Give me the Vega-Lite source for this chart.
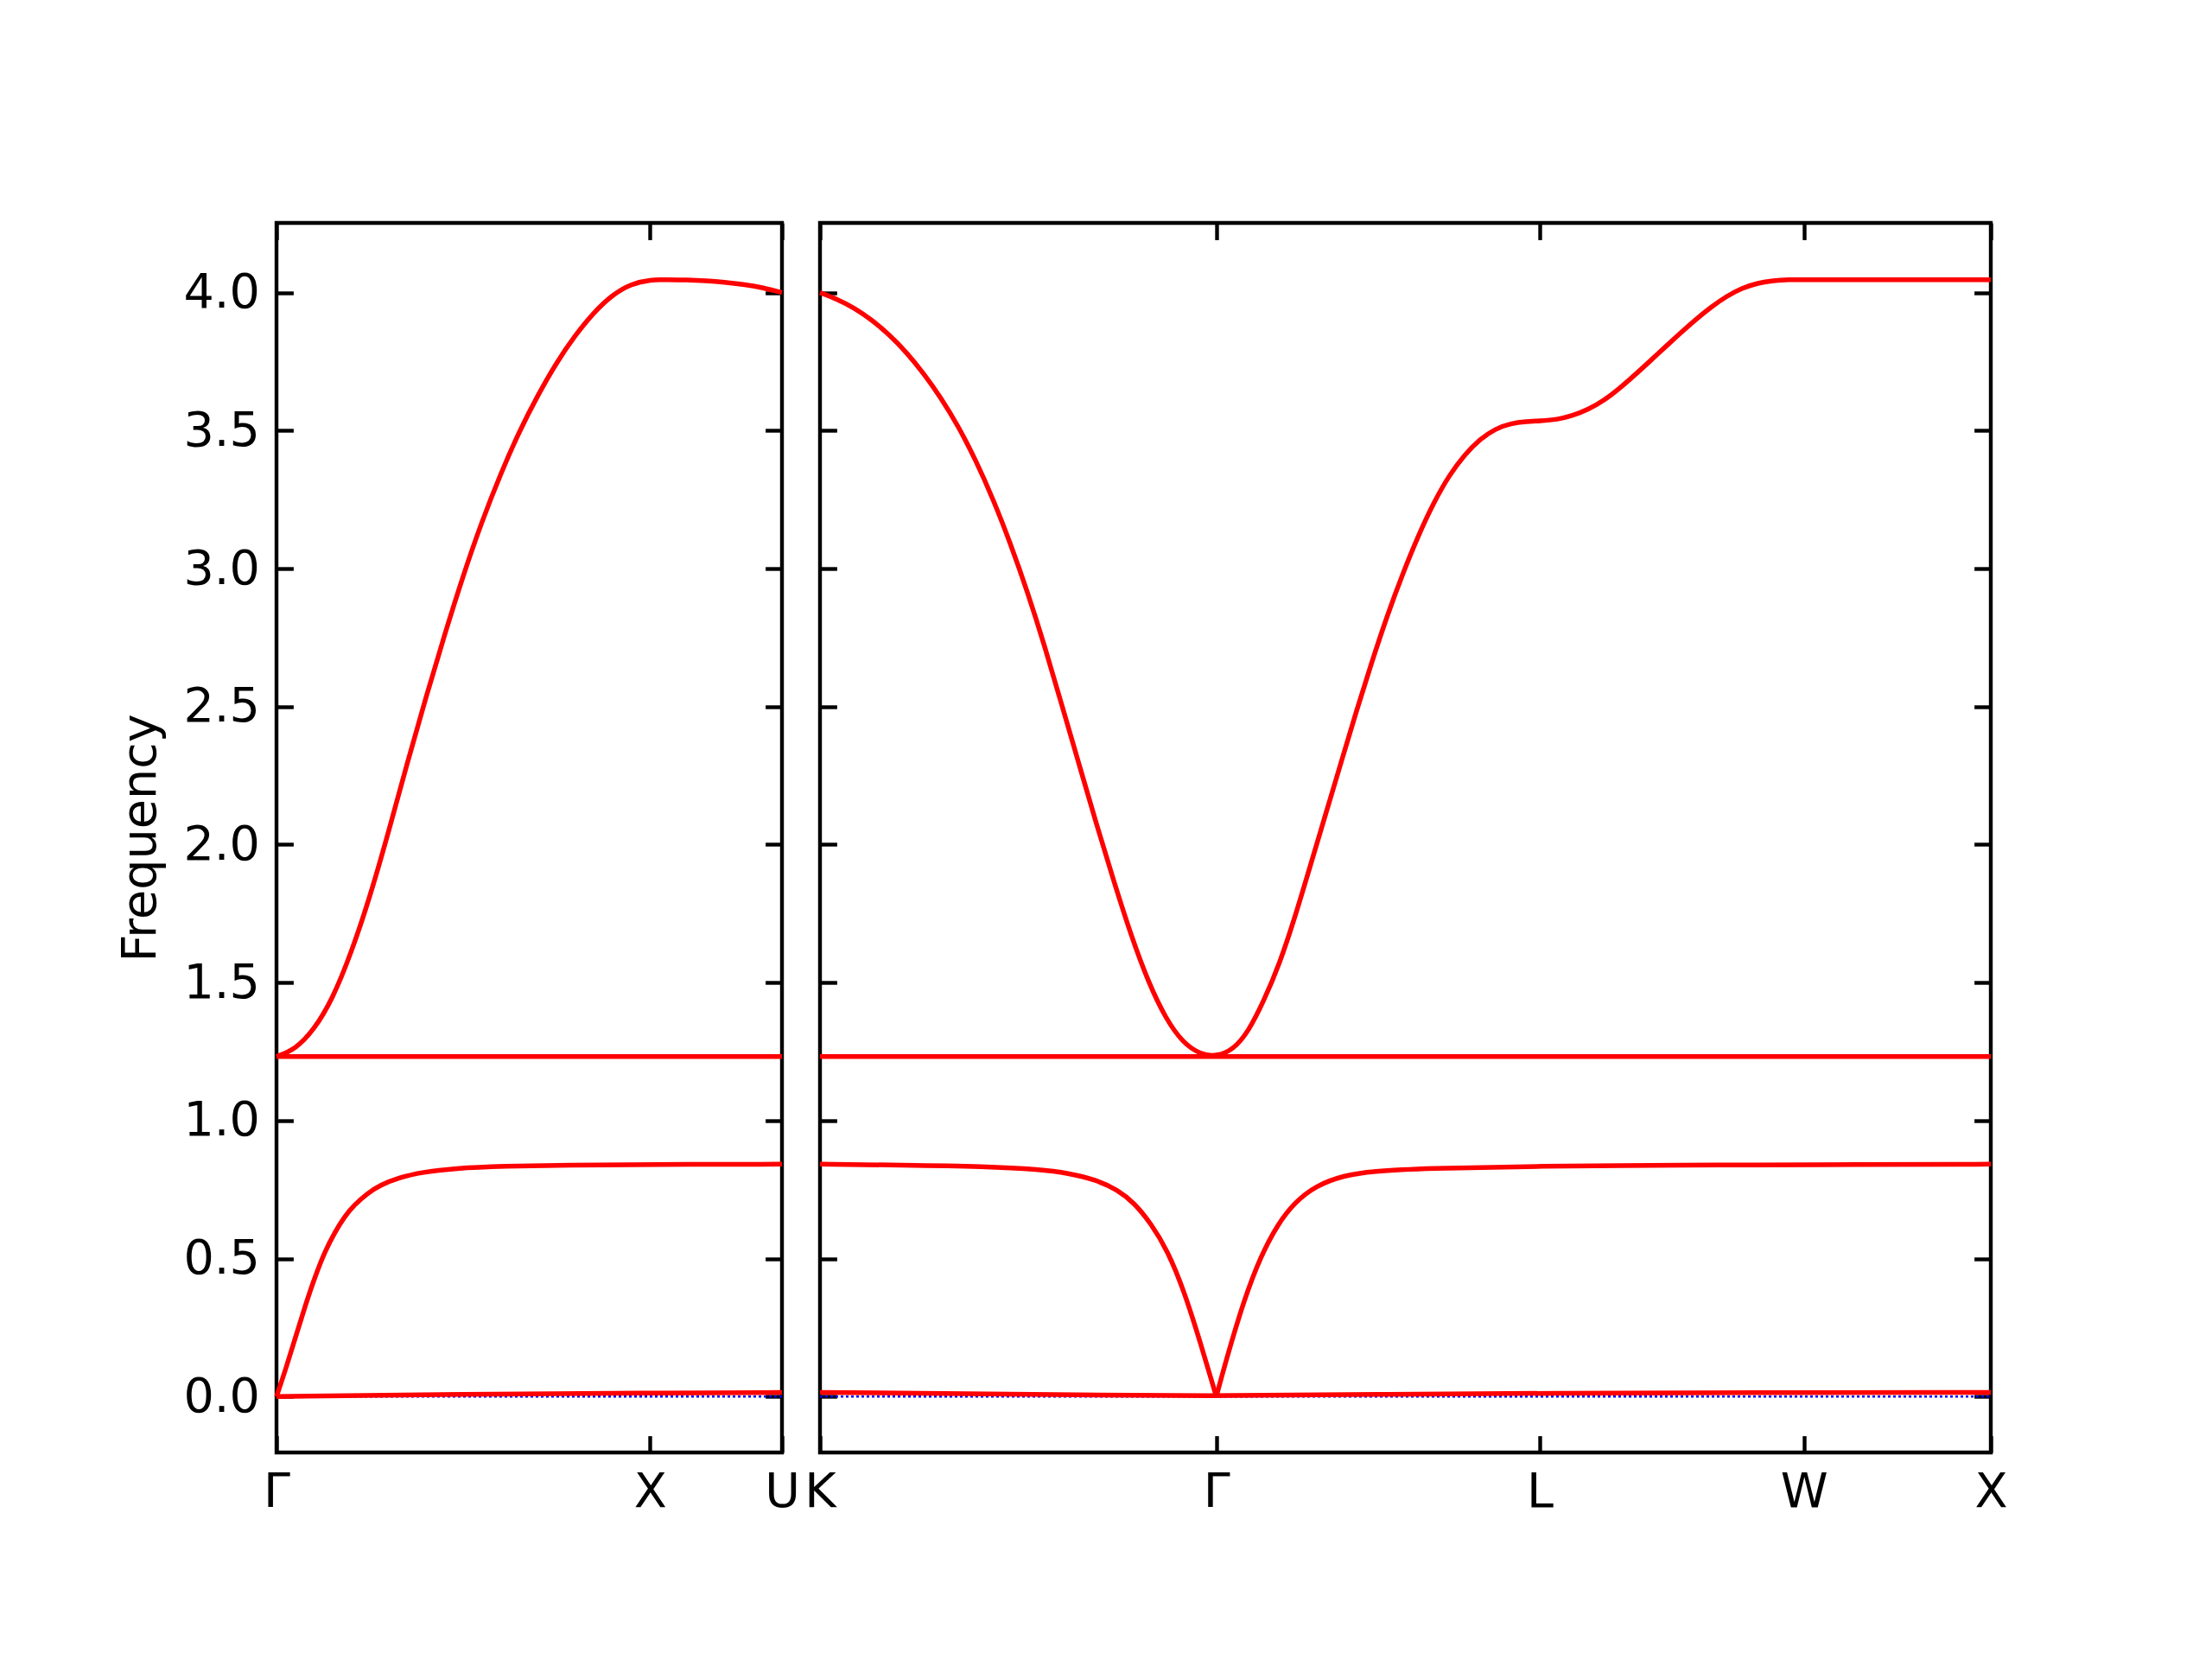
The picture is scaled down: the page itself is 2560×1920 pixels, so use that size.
{
  "$schema": "https://vega.github.io/schema/vega-lite/v6.json",
  "background": "white",
  "autosize": {"type": "pad"},
  "padding": {"left": 133, "top": 253, "right": 10, "bottom": 10},
  "bounds": "flush",
  "spacing": 44,
  "config": {
    "view": {"stroke": "black", "strokeWidth": 4.4},
    "font": "DejaVu Sans",
    "axis": {
      "domain": false, "grid": false,
      "tickColor": "black", "tickWidth": 4.4, "tickSize": -19.4,
      "labelFont": "DejaVu Sans", "labelFontSize": 55.6, "labelColor": "black",
      "titleFont": "DejaVu Sans", "titleFontSize": 55.6, "titleFontWeight": "normal", "titleColor": "black",
      "labelFlush": false, "labelOverlap": false, "labelBound": false
    }
  },
  "datasets": {
    "zeroL": [{"k": 0, "f": 0}, {"k": 1.3536, "f": 0}],
    "zeroR": [{"k": 0, "f": 0}, {"k": 3.1338, "f": 0}],
    "left": [
      {"band": "1", "k": 0, "f": 0}, {"band": "1", "k": 0.5, "f": 0.009}, {"band": "1", "k": 1.0, "f": 0.013}, {"band": "1", "k": 1.3536, "f": 0.015},
      {"band": "2", "k": 0, "f": 0}, {"band": "2", "k": 0.026, "f": 0.105}, {"band": "2", "k": 0.052, "f": 0.22}, {"band": "2", "k": 0.078, "f": 0.334},
      {"band": "2", "k": 0.104, "f": 0.438}, {"band": "2", "k": 0.13, "f": 0.527}, {"band": "2", "k": 0.156, "f": 0.595}, {"band": "2", "k": 0.182, "f": 0.652},
      {"band": "2", "k": 0.208, "f": 0.694}, {"band": "2", "k": 0.242, "f": 0.735}, {"band": "2", "k": 0.277, "f": 0.766}, {"band": "2", "k": 0.329, "f": 0.794},
      {"band": "2", "k": 0.39, "f": 0.813}, {"band": "2", "k": 0.476, "f": 0.827}, {"band": "2", "k": 0.606, "f": 0.835}, {"band": "2", "k": 0.779, "f": 0.839},
      {"band": "2", "k": 1.0, "f": 0.841}, {"band": "2", "k": 1.3536, "f": 0.842},
      {"band": "3", "k": 0, "f": 1.232}, {"band": "3", "k": 1.3536, "f": 1.232},
      {"band": "4", "k": 0, "f": 1.232}, {"band": "4", "k": 0.05, "f": 1.258}, {"band": "4", "k": 0.1, "f": 1.328}, {"band": "4", "k": 0.15, "f": 1.44},
      {"band": "4", "k": 0.2, "f": 1.607}, {"band": "4", "k": 0.25, "f": 1.809}, {"band": "4", "k": 0.3, "f": 2.046}, {"band": "4", "k": 0.35, "f": 2.295},
      {"band": "4", "k": 0.4, "f": 2.533}, {"band": "4", "k": 0.45, "f": 2.76}, {"band": "4", "k": 0.5, "f": 2.976}, {"band": "4", "k": 0.55, "f": 3.171},
      {"band": "4", "k": 0.6, "f": 3.343}, {"band": "4", "k": 0.65, "f": 3.497}, {"band": "4", "k": 0.7, "f": 3.629}, {"band": "4", "k": 0.75, "f": 3.747},
      {"band": "4", "k": 0.8, "f": 3.846}, {"band": "4", "k": 0.85, "f": 3.929}, {"band": "4", "k": 0.9, "f": 3.993}, {"band": "4", "k": 0.95, "f": 4.032},
      {"band": "4", "k": 1.0, "f": 4.047}, {"band": "4", "k": 1.05, "f": 4.047}, {"band": "4", "k": 1.1, "f": 4.046}, {"band": "4", "k": 1.15, "f": 4.043},
      {"band": "4", "k": 1.2, "f": 4.038}, {"band": "4", "k": 1.25, "f": 4.03}, {"band": "4", "k": 1.3, "f": 4.019}, {"band": "4", "k": 1.3536, "f": 4.0}
    ],
    "right": [
      {"band": "1", "k": 0, "f": 0.015}, {"band": "1", "k": 0.5, "f": 0.01}, {"band": "1", "k": 1.0607, "f": 0}, {"band": "1", "k": 1.5, "f": 0.009},
      {"band": "1", "k": 1.9267, "f": 0.012}, {"band": "1", "k": 2.6338, "f": 0.015}, {"band": "1", "k": 3.1338, "f": 0.015},
      {"band": "2a", "k": 0, "f": 0.842}, {"band": "2a", "k": 0.221, "f": 0.839}, {"band": "2a", "k": 0.443, "f": 0.834}, {"band": "2a", "k": 0.59, "f": 0.823},
      {"band": "2a", "k": 0.664, "f": 0.81}, {"band": "2a", "k": 0.738, "f": 0.786}, {"band": "2a", "k": 0.797, "f": 0.749}, {"band": "2a", "k": 0.841, "f": 0.702},
      {"band": "2a", "k": 0.885, "f": 0.629}, {"band": "2a", "k": 0.93, "f": 0.53}, {"band": "2a", "k": 0.974, "f": 0.385}, {"band": "2a", "k": 1.018, "f": 0.197},
      {"band": "2a", "k": 1.0607, "f": 0},
      {"band": "2b", "k": 1.0607, "f": 0}, {"band": "2b", "k": 1.092, "f": 0.156}, {"band": "2b", "k": 1.136, "f": 0.354}, {"band": "2b", "k": 1.18, "f": 0.51},
      {"band": "2b", "k": 1.225, "f": 0.624}, {"band": "2b", "k": 1.269, "f": 0.702}, {"band": "2b", "k": 1.328, "f": 0.765}, {"band": "2b", "k": 1.402, "f": 0.801},
      {"band": "2b", "k": 1.476, "f": 0.817}, {"band": "2b", "k": 1.623, "f": 0.827}, {"band": "2b", "k": 1.918, "f": 0.835}, {"band": "2b", "k": 2.314, "f": 0.839},
      {"band": "2b", "k": 2.6338, "f": 0.84}, {"band": "2b", "k": 3.1338, "f": 0.842},
      {"band": "3", "k": 0, "f": 1.232}, {"band": "3", "k": 3.1338, "f": 1.232},
      {"band": "4", "k": 0, "f": 4.0}, {"band": "4", "k": 0.0463, "f": 3.976}, {"band": "4", "k": 0.0925, "f": 3.944}, {"band": "4", "k": 0.1388, "f": 3.901},
      {"band": "4", "k": 0.1851, "f": 3.848}, {"band": "4", "k": 0.2314, "f": 3.784}, {"band": "4", "k": 0.2777, "f": 3.707}, {"band": "4", "k": 0.3239, "f": 3.619},
      {"band": "4", "k": 0.3702, "f": 3.516}, {"band": "4", "k": 0.4165, "f": 3.394}, {"band": "4", "k": 0.4627, "f": 3.254}, {"band": "4", "k": 0.509, "f": 3.094},
      {"band": "4", "k": 0.5553, "f": 2.916}, {"band": "4", "k": 0.6016, "f": 2.719}, {"band": "4", "k": 0.6478, "f": 2.503}, {"band": "4", "k": 0.6941, "f": 2.288},
      {"band": "4", "k": 0.7404, "f": 2.072}, {"band": "4", "k": 0.7867, "f": 1.866}, {"band": "4", "k": 0.8329, "f": 1.669}, {"band": "4", "k": 0.8792, "f": 1.5},
      {"band": "4", "k": 0.9255, "f": 1.369}, {"band": "4", "k": 0.9718, "f": 1.281}, {"band": "4", "k": 1.018, "f": 1.24}, {"band": "4", "k": 1.0607, "f": 1.232},
      {"band": "4", "k": 1.1055, "f": 1.256}, {"band": "4", "k": 1.1467, "f": 1.322}, {"band": "4", "k": 1.1881, "f": 1.434}, {"band": "4", "k": 1.2295, "f": 1.566},
      {"band": "4", "k": 1.2707, "f": 1.734}, {"band": "4", "k": 1.3121, "f": 1.922}, {"band": "4", "k": 1.3533, "f": 2.11}, {"band": "4", "k": 1.3947, "f": 2.297},
      {"band": "4", "k": 1.4359, "f": 2.485}, {"band": "4", "k": 1.4773, "f": 2.663}, {"band": "4", "k": 1.5187, "f": 2.832}, {"band": "4", "k": 1.5599, "f": 2.982},
      {"band": "4", "k": 1.6013, "f": 3.119}, {"band": "4", "k": 1.6425, "f": 3.239}, {"band": "4", "k": 1.6839, "f": 3.338}, {"band": "4", "k": 1.7251, "f": 3.413},
      {"band": "4", "k": 1.7665, "f": 3.469}, {"band": "4", "k": 1.808, "f": 3.507}, {"band": "4", "k": 1.8491, "f": 3.526}, {"band": "4", "k": 1.8906, "f": 3.533},
      {"band": "4", "k": 1.9267, "f": 3.535}, {"band": "4", "k": 1.9732, "f": 3.54}, {"band": "4", "k": 2.0144, "f": 3.554}, {"band": "4", "k": 2.0558, "f": 3.576},
      {"band": "4", "k": 2.0972, "f": 3.608}, {"band": "4", "k": 2.1384, "f": 3.651}, {"band": "4", "k": 2.1798, "f": 3.7}, {"band": "4", "k": 2.221, "f": 3.751},
      {"band": "4", "k": 2.2624, "f": 3.803}, {"band": "4", "k": 2.3036, "f": 3.854}, {"band": "4", "k": 2.345, "f": 3.904}, {"band": "4", "k": 2.3864, "f": 3.949},
      {"band": "4", "k": 2.4276, "f": 3.988}, {"band": "4", "k": 2.469, "f": 4.017}, {"band": "4", "k": 2.5102, "f": 4.035}, {"band": "4", "k": 2.5516, "f": 4.044},
      {"band": "4", "k": 2.5928, "f": 4.047}, {"band": "4", "k": 2.6338, "f": 4.047}, {"band": "4", "k": 3.1338, "f": 4.047}
    ]
  },
  "hconcat": [
    {
      "width": 585, "height": 1423,
      "resolve": {"axis": {"x": "independent", "y": "independent"}},
      "layer": [
        {
          "data": {"name": "zeroL"},
          "mark": {"type": "line", "color": "#0000ff", "strokeWidth": 2.5, "strokeDash": [3, 3]},
          "encoding": {
            "x": {"field": "k", "type": "quantitative", "scale": {"domain": [0, 1.3536], "nice": false, "zero": false},
                  "axis": {"orient": "bottom", "values": [0, 1, 1.3536], "title": null, "labelPadding": 37.8, "labelExpr": "datum.value == 0 ? 'Γ' : datum.value == 1 ? 'X' : 'U'"}},
            "y": {"field": "f", "type": "quantitative", "scale": {"domain": [-0.2025, 4.2525], "nice": false, "zero": false},
                  "axis": {"orient": "left", "values": [0, 0.5, 1, 1.5, 2, 2.5, 3, 3.5, 4], "format": ".1f", "title": "Frequency", "labelPadding": 39, "titlePadding": 20}}
          }
        },
        {
          "data": {"name": "left"},
          "mark": {"type": "line", "color": "#ff0000", "strokeWidth": 5.5, "interpolate": "basis"},
          "encoding": {
            "x": {"field": "k", "type": "quantitative", "scale": {"domain": [0, 1.3536], "nice": false, "zero": false},
                  "axis": {"orient": "top", "values": [0, 1, 1.3536], "title": null, "labels": false}},
            "y": {"field": "f", "type": "quantitative", "scale": {"domain": [-0.2025, 4.2525], "nice": false, "zero": false},
                  "axis": {"orient": "right", "values": [0, 0.5, 1, 1.5, 2, 2.5, 3, 3.5, 4], "title": null, "labels": false}},
            "detail": {"field": "band", "type": "nominal"}
          }
        }
      ]
    },
    {
      "width": 1355, "height": 1423,
      "resolve": {"axis": {"x": "independent", "y": "independent"}},
      "layer": [
        {
          "data": {"name": "zeroR"},
          "mark": {"type": "line", "color": "#0000ff", "strokeWidth": 2.5, "strokeDash": [3, 3]},
          "encoding": {
            "x": {"field": "k", "type": "quantitative", "scale": {"domain": [0, 3.1338], "nice": false, "zero": false},
                  "axis": {"orient": "bottom", "values": [0, 1.0607, 1.9267, 2.6338, 3.1338], "title": null, "labelPadding": 37.8,
                           "labelExpr": "datum.value == 0 ? 'K' : datum.value == 1.0607 ? 'Γ' : datum.value == 1.9267 ? 'L' : datum.value == 2.6338 ? 'W' : 'X'"}},
            "y": {"field": "f", "type": "quantitative", "scale": {"domain": [-0.2025, 4.2525], "nice": false, "zero": false},
                  "axis": {"orient": "left", "values": [0, 0.5, 1, 1.5, 2, 2.5, 3, 3.5, 4], "title": null, "labels": false}}
          }
        },
        {
          "data": {"name": "right"},
          "mark": {"type": "line", "color": "#ff0000", "strokeWidth": 5.5, "interpolate": "basis"},
          "encoding": {
            "x": {"field": "k", "type": "quantitative", "scale": {"domain": [0, 3.1338], "nice": false, "zero": false},
                  "axis": {"orient": "top", "values": [0, 1.0607, 1.9267, 2.6338, 3.1338], "title": null, "labels": false}},
            "y": {"field": "f", "type": "quantitative", "scale": {"domain": [-0.2025, 4.2525], "nice": false, "zero": false},
                  "axis": {"orient": "right", "values": [0, 0.5, 1, 1.5, 2, 2.5, 3, 3.5, 4], "title": null, "labels": false}},
            "detail": {"field": "band", "type": "nominal"}
          }
        }
      ]
    }
  ]
}
